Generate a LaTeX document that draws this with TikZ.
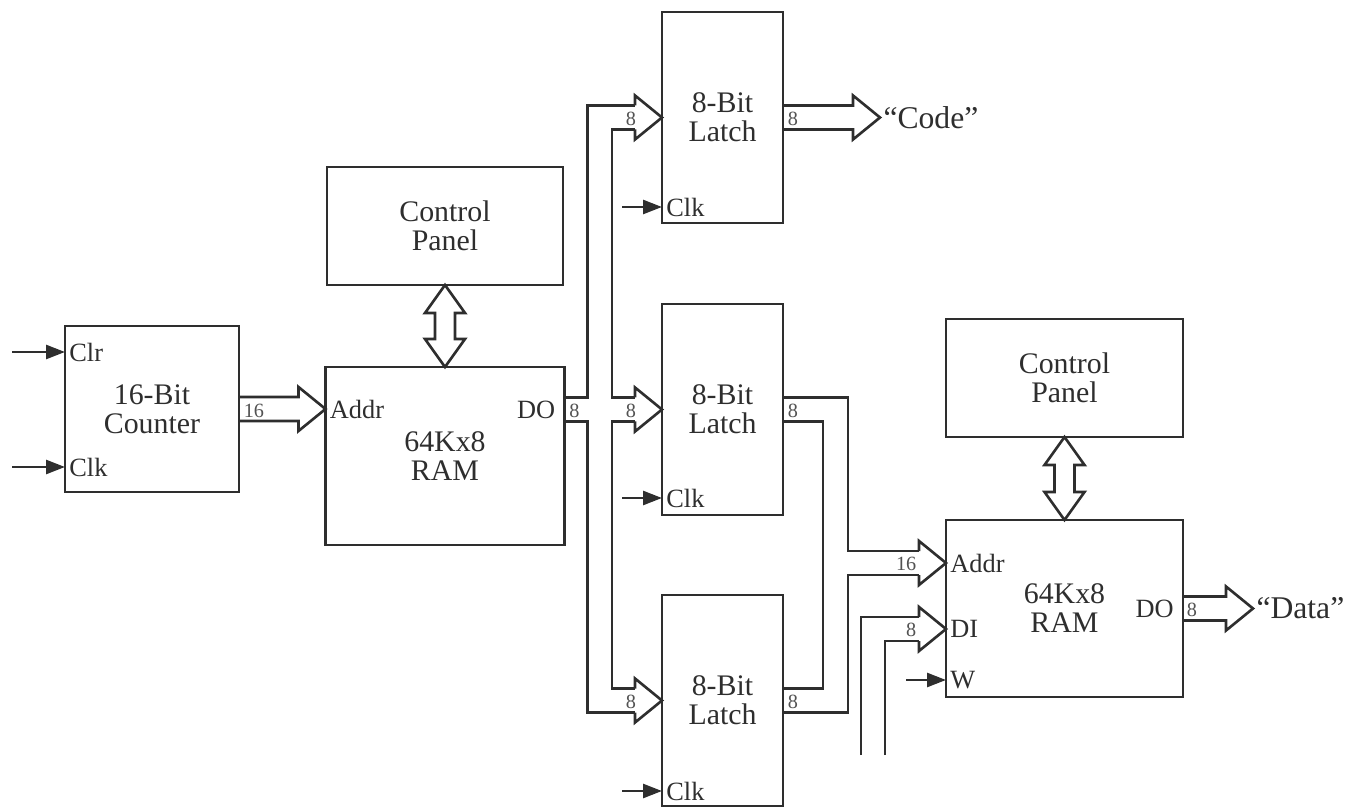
\documentclass[tikz,border=0pt]{standalone}
\usepackage{fontspec}
\setmainfont{Liberation Serif}
\usetikzlibrary{arrows.meta,calc}
\definecolor{MemInk}{gray}{0.18}
\definecolor{MemLabel}{gray}{0.32}
\tikzset{
    mem/diagram/.style={
        x=0.02cm, y=-0.02cm,
        color=MemInk,
        line width=1.5pt,
        line join=miter,
        every node/.style={inner sep=2pt, outer sep=0pt}
    },
    mem/size/.style 2 args={minimum width=#1*0.02cm, minimum height=#2*0.02cm},
    mem/block/.style={
        draw=MemInk, line width=1.5pt, align=center, inner sep=0pt,
        font=\fontsize{17}{16.5}\selectfont
    },
    mem/pinlabel/.style={font=\fontsize{15}{16}\selectfont, inner sep=2.5pt},
    mem/width/.style={font=\fontsize{11.5}{12}\selectfont, text=MemLabel, inner sep=1pt},
    mem/quote/.style={font=\fontsize{18}{20}\selectfont, inner sep=2pt},
    mem/pin/.style={
        draw=MemInk, line width=1.5pt,
        -{Triangle[length=3.8mm, width=2.8mm]}
    },
    mem/wire/.style={draw=MemInk, line width=1.5pt},
    mem/bus/.style={
        draw=MemInk, line width=1.5pt,
        to path={
            ($(\tikztostart)+(0,-12)$) -- ($(\tikztotarget)+(-27,-12)$)
            -- ($(\tikztotarget)+(-27,-22)$) -- (\tikztotarget)
            -- ($(\tikztotarget)+(-27,22)$) -- ($(\tikztotarget)+(-27,12)$)
            -- ($(\tikztostart)+(0,12)$)
        }
    },
    mem/duplex/.style={
        draw=MemInk, line width=1.5pt,
        to path={
            -- ($(\tikztostart)+(20,28)$) -- ($(\tikztostart)+(10,28)$)
            -- ($(\tikztotarget)+(10,-28)$) -- ($(\tikztotarget)+(20,-28)$)
            -- (\tikztotarget)
            -- ($(\tikztotarget)+(-20,-28)$) -- ($(\tikztotarget)+(-10,-28)$)
            -- ($(\tikztostart)+(-10,28)$) -- ($(\tikztostart)+(-20,28)$) -- cycle
        }
    },
    pics/bushead/.style={
        code={\draw[mem/wire] (-27,-12) -- (-27,-22) -- (0,0) -- (-27,22) -- (-27,12);}
    }
}

\begin{document}
\begin{tikzpicture}[mem/diagram]
    \useasboundingbox (0,0) rectangle (1359,807);

    % blocks
    \node[mem/block, mem/size={174}{166}] (cnt) at (152,409) {16-Bit\\Counter};
    \node[mem/block, mem/size={236}{118}] (pan1) at (445,226) {Control\\Panel};
    \node[mem/block, mem/size={239}{178}] (ram1) at (445,456) {64Kx8\\RAM};
    \node[mem/block, mem/size={121}{211}] (lat1) at (722.5,117.5) {8-Bit\\Latch};
    \node[mem/block, mem/size={121}{211}] (lat2) at (722.5,409.5) {8-Bit\\Latch};
    \node[mem/block, mem/size={121}{211}] (lat3) at (722.5,700.5) {8-Bit\\Latch};
    \node[mem/block, mem/size={237}{118}] (pan2) at (1064.5,378) {Control\\Panel};
    \node[mem/block, mem/size={237}{177}] (ram2) at (1064.5,608.5) {64Kx8\\RAM};

    % counter pins
    \node[mem/pinlabel, anchor=west] (cntclr) at ($(cnt.north west)+(0,26)$) {Clr};
    \node[mem/pinlabel, anchor=west] (cntclk) at ($(cnt.south west)+(0,-25)$) {Clk};
    \coordinate (clrsrc) at ($(cntclr.west)+(-53,0)$);
    \coordinate (clksrc) at ($(cntclk.west)+(-53,0)$);
    \draw[mem/pin] (clrsrc) -- (cntclr.west);
    \draw[mem/pin] (clksrc) -- (cntclk.west);

    % first RAM
    \coordinate (ramaddr) at (cnt.east -| ram1.west);
    \coordinate (ramdo) at (ram1.east |- lat2.west);
    \node[mem/pinlabel, anchor=west] at (ramaddr) {Addr};
    \node[mem/pinlabel, anchor=east] at ($(ramdo)+(-5,0)$) {DO};
    \draw[mem/bus] (cnt.east) to (ramaddr);
    \node[mem/width, anchor=west] at ($(cnt.east)+(3,2)$) {16};
    \draw[mem/duplex] (pan1.south) to (ram1.north);

    % data out fanned to the latches
    \draw[mem/wire] ($(ramdo)+(0,-12)$) -- ++(23,0) |- ($(lat1.west)+(-27,-12)$);
    \draw[mem/wire] ($(lat1.west)+(-27,12)$) -- ++(-23,0) |- ($(lat2.west)+(-27,-12)$);
    \draw[mem/wire] ($(lat2.west)+(-27,12)$) -- ++(-23,0) |- ($(lat3.west)+(-27,-12)$);
    \draw[mem/wire] ($(ramdo)+(0,12)$) -- ++(23,0) |- ($(lat3.west)+(-27,12)$);
    \pic at (lat1.west) {bushead};
    \pic at (lat2.west) {bushead};
    \pic at (lat3.west) {bushead};
    \node[mem/width, anchor=west] at ($(ramdo)+(3,1)$) {8};
    \node[mem/width] at ($(lat1.west)+(-31,1)$) {8};
    \node[mem/width] at ($(lat2.west)+(-31,1)$) {8};
    \node[mem/width] at ($(lat3.west)+(-31,1)$) {8};

    % latch clocks
    \node[mem/pinlabel, anchor=west] (l1clk) at ($(lat1.south west)+(0,-16)$) {Clk};
    \node[mem/pinlabel, anchor=west] (l2clk) at ($(lat2.south west)+(0,-17)$) {Clk};
    \node[mem/pinlabel, anchor=west] (l3clk) at ($(lat3.south west)+(0,-15)$) {Clk};
    \coordinate (l1src) at ($(l1clk.west)+(-40,0)$);
    \coordinate (l2src) at ($(l2clk.west)+(-40,0)$);
    \coordinate (l3src) at ($(l3clk.west)+(-40,0)$);
    \draw[mem/pin] (l1src) -- (l1clk.west);
    \draw[mem/pin] (l2src) -- (l2clk.west);
    \draw[mem/pin] (l3src) -- (l3clk.west);

    % code output
    \node[mem/quote, anchor=west] (code) at ($(lat1.east)+(97,0)$) {“Code”};
    \draw[mem/bus] (lat1.east) to (code.west);
    \node[mem/width, anchor=west] at ($(lat1.east)+(3,1)$) {8};

    % second RAM
    \coordinate (addr) at ($(ram2.north west)+(0,43)$);
    \coordinate (di) at ($(ram2.north west)+(0,109)$);
    \coordinate (wpin) at ($(ram2.north west)+(0,160)$);
    \node[mem/pinlabel, anchor=west] at (addr) {Addr};
    \node[mem/pinlabel, anchor=west] at (di) {DI};
    \node[mem/pinlabel, anchor=west] (wlbl) at (wpin) {W};
    \node[mem/pinlabel, anchor=east] at ($(ram2.east)+(-5,0)$) {DO};
    \coordinate (wsrc) at ($(wlbl.west)+(-40,0)$);
    \draw[mem/pin] (wsrc) -- (wlbl.west);
    \draw[mem/duplex] (pan2.south) to (ram2.north);

    % latch outputs joined into the address bus
    \draw[mem/wire] ($(lat2.east)+(0,-12)$) -- ++(65,0) |- ($(addr)+(-27,-12)$);
    \draw[mem/wire] ($(lat2.east)+(0,12)$) -- ++(40,0) |- ($(lat3.east)+(0,-12)$);
    \draw[mem/wire] ($(lat3.east)+(0,12)$) -- ++(65,0) |- ($(addr)+(-27,12)$);
    \pic at (addr) {bushead};
    \node[mem/width, anchor=west] at ($(lat2.east)+(3,1)$) {8};
    \node[mem/width, anchor=west] at ($(lat3.east)+(3,1)$) {8};
    \node[mem/width, anchor=east] at ($(addr)+(-28,1)$) {16};

    % data in
    \coordinate (diL) at (861,755);
    \coordinate (diR) at (885,755);
    \draw[mem/wire] (diL) |- ($(di)+(-27,-12)$);
    \draw[mem/wire] (diR) |- ($(di)+(-27,12)$);
    \pic at (di) {bushead};
    \node[mem/width, anchor=east] at ($(di)+(-28,1)$) {8};

    % data output
    \node[mem/quote, anchor=west] (data) at ($(ram2.east)+(70,0)$) {“Data”};
    \draw[mem/bus] (ram2.east) to (data.west);
    \node[mem/width, anchor=west] at ($(ram2.east)+(2,1)$) {8};
\end{tikzpicture}
\end{document}
